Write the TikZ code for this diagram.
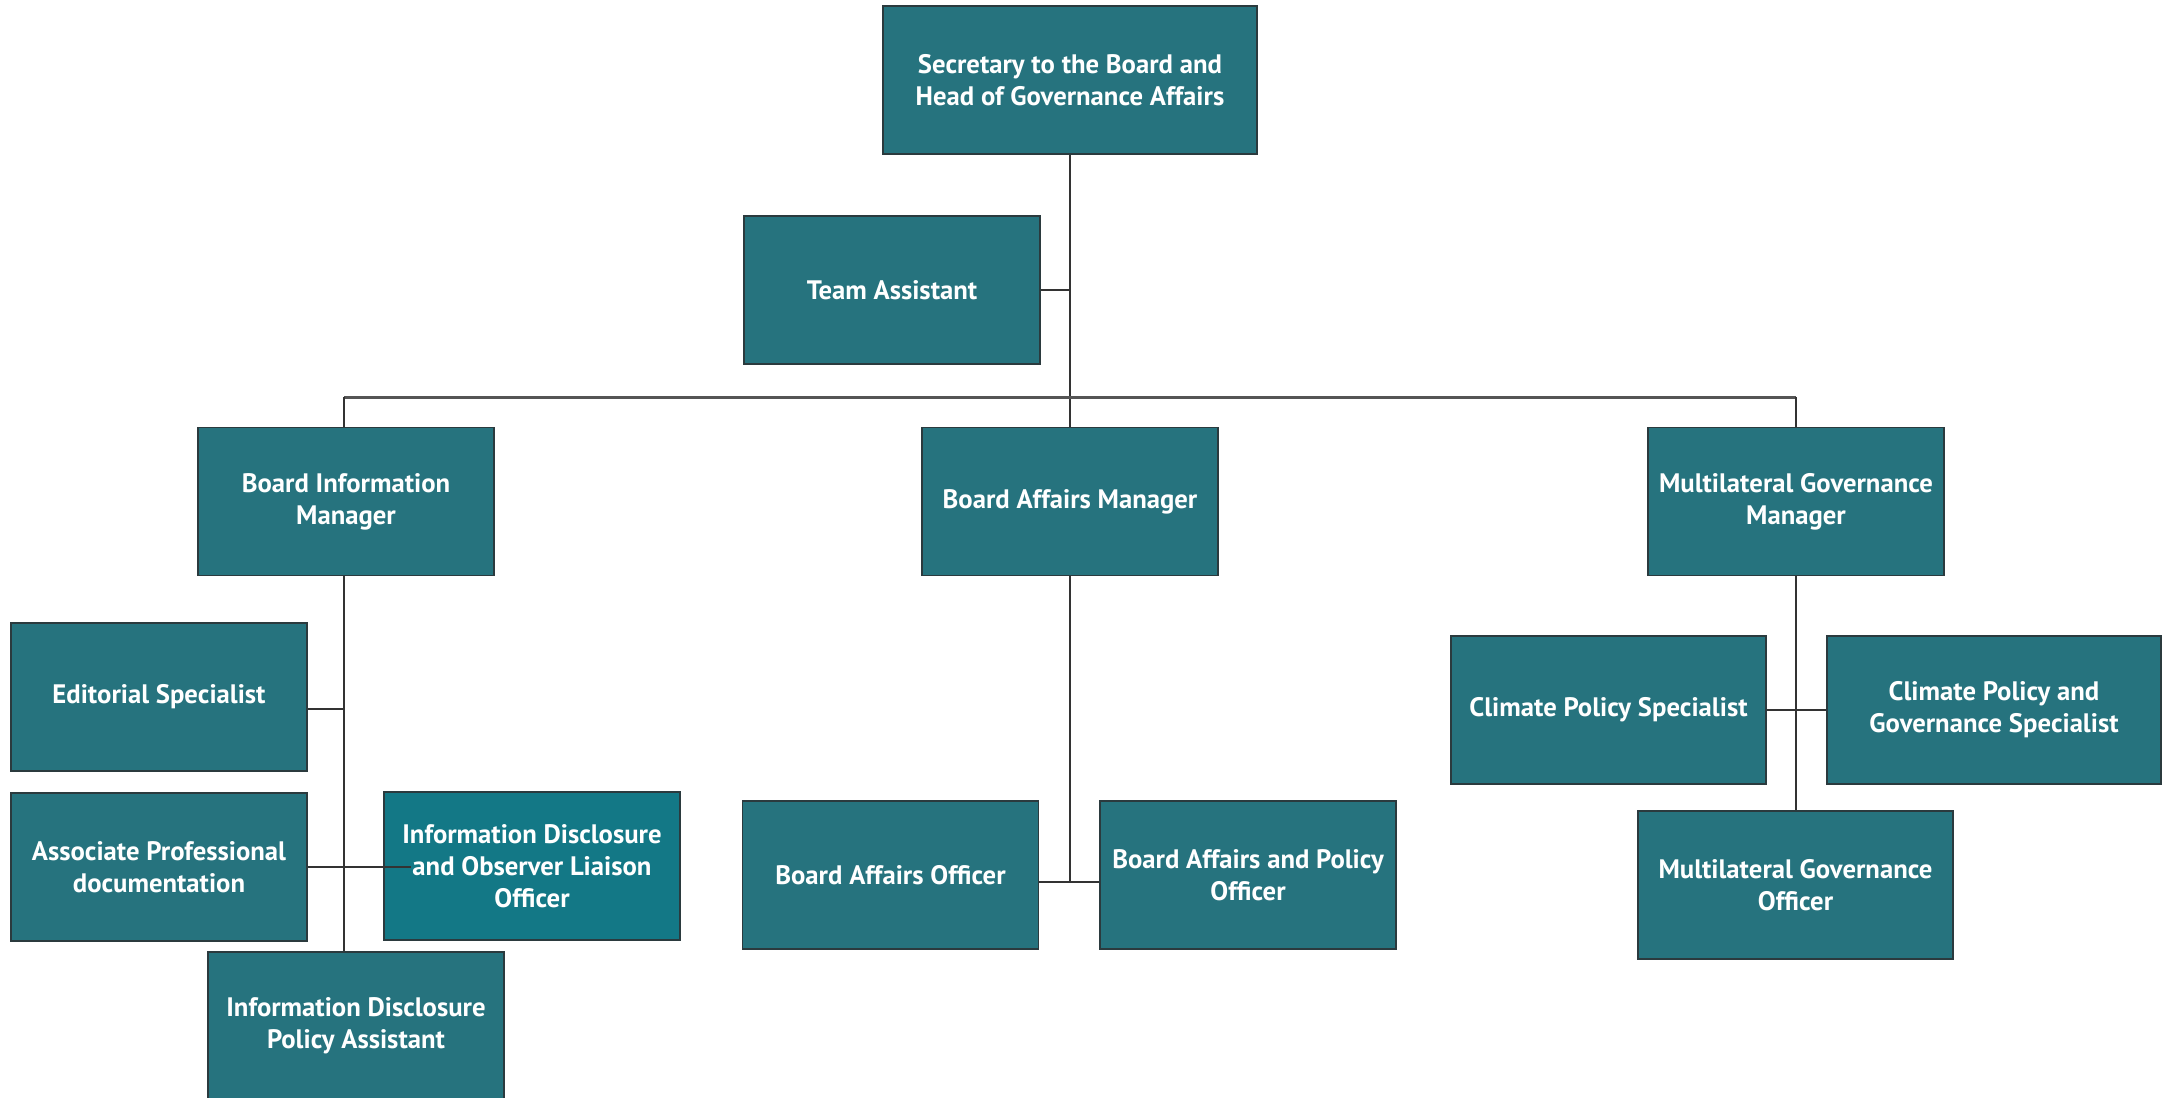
\documentclass[tikz,border=0pt]{standalone}
\usepackage{fontspec}
\setmainfont{PT Sans}
\newfontfamily\boxfont[Scale=1]{PT Sans}
\definecolor{boxfill}{HTML}{26737E}
\definecolor{boxfillb}{HTML}{137886}
\definecolor{boxedge}{HTML}{2B3A3E}
\definecolor{linecol}{HTML}{333333}
\definecolor{barcol}{HTML}{555555}
\tikzset{
  orgbox/.style={draw=boxedge, line width=1.5pt, fill=boxfill, text=white,
    minimum width=296pt, minimum height=148pt, inner sep=0pt, align=center,
    font=\boxfont\bfseries\fontsize{26.7pt}{32pt}\selectfont},
  conn/.style={draw=linecol, line width=1.6pt},
  barline/.style={draw=barcol, line width=3pt}
}
\begin{document}
\begin{tikzpicture}[x=1pt,y=-1pt]
\useasboundingbox (0,0) rectangle (2164,1098);
% nodes
\node[orgbox, minimum width=374pt] (top) at (1070,80) {Secretary to the Board and\\Head of Governance Affairs};
\node[orgbox] (ta) at (892,290) {Team Assistant};
\node[orgbox] (bim) at (346,501.5) {Board Information\\Manager};
\node[orgbox] (bam) at (1070,501.5) {Board Affairs Manager};
\node[orgbox] (mgm) at (1796,501.5) {Multilateral Governance\\Manager};
\node[orgbox] (ed) at (159,697) {Editorial Specialist};
\node[orgbox] (ap) at (159,867) {Associate Professional\\documentation};
\node[orgbox, fill=boxfillb] (ido) at (532,866) {Information Disclosure\\and Observer Liaison\\Officer};
\node[orgbox] (idpa) at (356,1026) {Information Disclosure\\Policy Assistant};
\node[orgbox] (bao) at (890.5,875) {Board Affairs Officer};
\node[orgbox] (bapo) at (1248,875) {Board Affairs and Policy\\Officer};
\node[orgbox, minimum width=315pt] (cps) at (1608.5,710) {Climate Policy Specialist};
\node[orgbox, minimum width=334pt] (cpgs) at (1994,710) {Climate Policy and\\Governance Specialist};
\node[orgbox, minimum width=315pt] (mgo) at (1795.5,885) {Multilateral Governance\\Officer};
% named coordinates
\coordinate (tj) at (1070,290);
\coordinate (bl) at (344,397);
\coordinate (br) at (1796,397);
\coordinate (edj) at (344,709);
\coordinate (apj) at (344,867);
\coordinate (apin) at (411,867);
\coordinate (baj) at (1070,882);
\coordinate (cpj) at (1796,710);
% connectors
\draw[conn] (top.south) -- (bam.north);
\draw[conn] (ta.east) -- (tj);
\draw[barline] (bl) -- (br);
\draw[conn] (bl) -- (bl |- bim.north);
\draw[conn] (br) -- (br |- mgm.north);
\draw[conn] (bl |- bim.south) -- (bl |- idpa.north);
\draw[conn] (ed.east |- edj) -- (edj);
\draw[conn] (ap.east |- apj) -- (apin);
\draw[conn] (bam.south) -- (baj);
\draw[conn] (bao.east |- baj) -- (bapo.west |- baj);
\draw[conn] (mgm.south -| cpj) -- (mgo.north -| cpj);
\draw[conn] (cps.east |- cpj) -- (cpgs.west |- cpj);
\end{tikzpicture}
\end{document}
